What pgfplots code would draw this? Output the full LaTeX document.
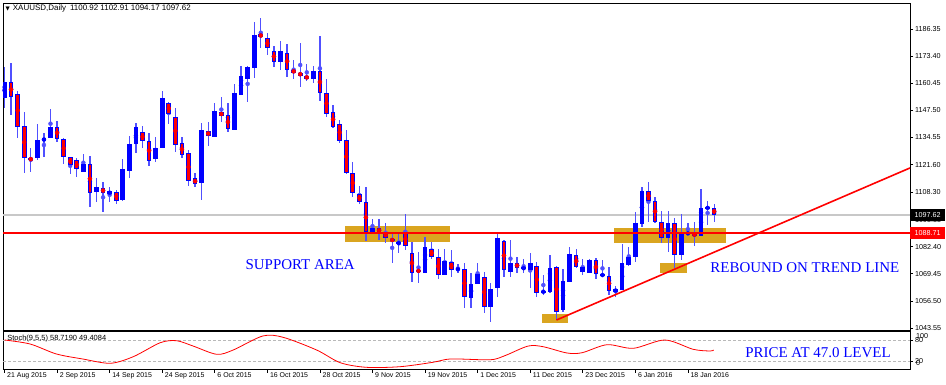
\documentclass[border=0pt]{standalone}
\usepackage{fontspec}
\setmainfont{Liberation Sans}
\newfontfamily\serifann{Liberation Serif}
\newfontfamily\dejavu{DejaVu Sans}
\usepackage{pgfplots}
\usepackage{pgfplotstable}
\pgfplotsset{compat=1.18}
\definecolor{gold}{HTML}{DAA520}
\definecolor{wick}{RGB}{80,80,255}
\definecolor{hred}{RGB}{255,0,0}
\definecolor{bidgray}{RGB}{200,200,200}
\definecolor{lvlgray}{RGB}{185,185,185}
\newcommand{\annfont}{\serifann\fontsize{15}{17}\selectfont}

\pgfplotstableread{
i o h l c
0 1153.26 1168.35 1148.77 1160.90
5 1124.60 1140.98 1123.79 1133.34
6 1132.87 1136.54 1125.37 1134.30
7 1134.15 1148.15 1134.15 1139.41
12 1118.20 1126.80 1118.20 1121.74
14 1108.65 1115.34 1103.88 1110.90
16 1107.41 1110.76 1103.59 1108.99
18 1104.69 1124.27 1104.21 1119.35
19 1118.68 1135.40 1115.34 1131.29
20 1131.29 1141.60 1127.28 1139.41
23 1124.27 1134.63 1122.69 1129.38
24 1129.67 1156.74 1129.67 1153.54
30 1112.67 1141.60 1104.69 1138.12
32 1134.63 1151.16 1134.63 1147.19
35 1138.12 1160.09 1138.12 1155.93
36 1154.83 1168.83 1154.83 1163.91
37 1162.47 1168.68 1151.63 1168.35
38 1167.87 1189.84 1163.09 1183.49
42 1170.74 1180.62 1166.77 1175.84
47 1162.62 1168.68 1160.71 1166.44
56 1089.26 1095.62 1088.79 1091.18
60 1083.92 1089.26 1079.62 1084.16
64 1069.97 1087.16 1069.69 1082.39
67 1068.87 1081.15 1068.87 1075.70
69 1071.50 1074.37 1069.69 1071.74
71 1057.75 1069.69 1052.97 1064.58
72 1064.58 1074.75 1064.58 1069.35
74 1053.74 1065.20 1046.28 1062.19
75 1062.52 1089.07 1058.22 1086.40
77 1070.45 1085.59 1067.78 1074.75
79 1071.98 1076.37 1069.69 1072.22
80 1071.26 1079.52 1062.52 1074.46
82 1060.42 1068.87 1059.32 1061.38
83 1060.61 1078.42 1060.42 1072.07
85 1052.16 1071.60 1051.35 1066.15
86 1065.67 1082.10 1065.67 1078.76
88 1070.45 1076.37 1068.87 1072.55
89 1069.69 1076.37 1069.69 1076.04
91 1068.73 1076.04 1068.06 1068.97
93 1060.76 1063.86 1058.37 1062.19
94 1061.71 1083.68 1061.71 1074.75
95 1073.65 1082.39 1073.17 1077.61
96 1077.33 1099.10 1075.23 1093.56
97 1093.23 1110.76 1091.65 1108.99
101 1086.69 1099.58 1080.00 1093.56
103 1078.42 1098.00 1076.04 1088.79
104 1088.69 1093.56 1087.98 1088.83
106 1087.50 1109.94 1087.50 1100.73
107 1100.87 1104.21 1092.75 1101.01
}\bull

\pgfplotstableread{
i o h l c
1 1160.90 1170.11 1145.28 1154.02
2 1155.17 1156.74 1134.44 1139.70
3 1140.03 1146.57 1117.44 1124.60
4 1124.60 1129.67 1118.20 1123.79
8 1139.70 1142.42 1132.24 1133.82
9 1133.68 1134.15 1121.74 1125.08
10 1125.08 1125.08 1116.96 1121.40
11 1123.65 1124.89 1115.82 1119.35
13 1121.74 1125.70 1101.49 1107.89
15 1110.56 1113.14 1098.82 1107.89
17 1108.65 1109.47 1102.64 1104.21
21 1137.02 1140.03 1129.38 1132.87
22 1133.01 1136.54 1121.07 1123.46
25 1151.16 1151.63 1140.84 1145.76
26 1144.47 1148.48 1127.76 1130.96
27 1131.77 1134.63 1124.60 1126.18
28 1126.99 1128.57 1111.52 1113.91
29 1115.05 1117.44 1110.76 1112.33
31 1137.64 1142.08 1130.48 1135.25
33 1146.57 1154.02 1141.80 1144.95
34 1145.28 1151.16 1137.02 1138.60
39 1183.82 1191.75 1177.42 1182.67
40 1181.91 1184.58 1173.93 1177.13
41 1175.84 1178.23 1168.06 1170.74
43 1175.03 1179.04 1163.57 1166.77
44 1166.77 1171.55 1162.33 1165.48
45 1165.48 1179.52 1158.80 1164.05
46 1163.91 1169.64 1161.66 1162.62
48 1166.44 1183.01 1152.11 1155.64
49 1155.93 1162.33 1144.18 1145.76
50 1146.71 1150.06 1138.93 1139.70
51 1140.98 1142.89 1132.05 1133.01
52 1133.34 1138.12 1117.11 1117.44
53 1117.73 1122.98 1105.98 1107.89
54 1107.56 1111.52 1102.64 1103.88
55 1103.59 1110.76 1085.25 1089.26
57 1091.18 1095.47 1085.59 1089.26
58 1089.41 1093.85 1084.30 1086.40
59 1086.07 1089.26 1074.46 1085.11
61 1089.55 1098.15 1080.95 1082.58
62 1079.52 1084.78 1065.67 1069.69
63 1071.26 1080.00 1064.91 1070.45
65 1081.15 1084.78 1076.37 1077.61
66 1077.33 1081.15 1066.82 1068.87
68 1075.23 1080.81 1068.06 1071.26
70 1071.60 1074.46 1052.97 1058.22
73 1068.06 1070.45 1050.58 1053.45
76 1085.11 1085.59 1068.06 1071.26
78 1074.75 1077.61 1069.69 1072.07
81 1073.17 1075.23 1058.51 1060.13
84 1072.84 1073.17 1047.38 1051.35
87 1078.42 1081.15 1072.07 1072.55
90 1076.04 1076.85 1066.82 1069.35
92 1068.40 1072.69 1059.56 1061.47
98 1108.99 1113.43 1094.33 1104.36
99 1104.21 1106.27 1093.56 1094.33
100 1094.33 1099.58 1084.01 1086.69
102 1093.56 1096.24 1072.07 1078.42
105 1088.79 1094.33 1082.72 1087.50
108 1100.92 1102.91 1094.17 1097.62
}\bear

\pgfplotstableread{
i v
0 80
3.9 68.7
7.9 40.6
11.9 26.5
16.1 14.4
19.6 33
23.7 72.4
26.2 78
28.7 63
32.3 39.7
34.8 51.8
39.3 91.3
42.4 87.6
47.5 51.8
51.1 16
55.1 3
60.2 4.8
65.2 17.2
67.8 26.5
72.4 24.5
74.5 25.5
76.4 37.7
79.7 63
82 61
85.6 43.4
87.9 44.2
91.7 66.8
95.7 56.6
100.5 80
104.8 53.8
107.4 49
107.9 51.8
}\stoch

\pgfplotsset{
  candle/.style={only marks, mark=none, forget plot,
    error bars/.cd, y dir=both, y explicit, error mark=none},
}

\begin{document}
\begin{tikzpicture}
\useasboundingbox (0,0) rectangle (946bp,-385bp);
\begin{axis}[
  at={(3bp,-3bp)}, anchor=north west,
  width=907bp, height=327bp, scale only axis,
  xmin=-0.23, xmax=137.8, ymin=1042.61, ymax=1198.77,
  xtick=\empty,
  ytick={1043.55,1056.50,1069.45,1082.40,1095.35,1108.30,1121.60,1134.55,1147.50,1160.45,1173.40,1186.35},
  yticklabels={1043.55,1056.50,1069.45,1082.40,1095.35,1108.30,1121.60,1134.55,1147.50,1160.45,1173.40,1186.35},
  ytick pos=right, yticklabel pos=right,
  tick align=outside, major tick length=3bp,
  tick style={black, line width=0.6bp},
  yticklabel style={font=\fontsize{7.2}{8}\selectfont, inner sep=0pt, xshift=2bp},
  axis line style={black, line width=0.8bp},
  clip mode=individual,
]
% zones
\addplot[fill=gold, draw=none] coordinates {(51.8,1084.4) (67.8,1084.4) (67.8,1092.27) (51.8,1092.27)};
\addplot[fill=gold, draw=none] coordinates {(92.8,1084.0) (109.8,1084.0) (109.8,1091.46) (92.8,1091.46)};
\addplot[fill=gold, draw=none] coordinates {(99.8,1069.97) (103.8,1069.97) (103.8,1074.75) (99.8,1074.75)};
\addplot[fill=gold, draw=none] coordinates {(81.8,1045.8) (85.8,1045.8) (85.8,1050.1) (81.8,1050.1)};
% bid line
\addplot[draw=bidgray, line width=1.5bp] coordinates {(-0.23,1097.62) (137.8,1097.62)};
% wicks
\addplot[wick, candle, error bar style={line width=1.2bp}]
  table[x=i, y expr={(\thisrow{h}+\thisrow{l})/2}, y error expr={(\thisrow{h}-\thisrow{l})/2}] {\bull};
\addplot[wick, candle, error bar style={line width=1.2bp}]
  table[x=i, y expr={(\thisrow{h}+\thisrow{l})/2}, y error expr={(\thisrow{h}-\thisrow{l})/2}] {\bear};
% bodies
\addplot[blue, candle, error bar style={line width=4.6bp}]
  table[x=i, y expr={(\thisrow{o}+\thisrow{c})/2}, y error expr={max((\thisrow{c}-\thisrow{o})/2,0.4)}] {\bull};
\addplot[blue, candle, error bar style={line width=4.6bp}]
  table[x=i, y expr={(\thisrow{o}+\thisrow{c})/2}, y error expr={max((\thisrow{o}-\thisrow{c})/2,0.6)}] {\bear};
\addplot[red, candle, error bar style={line width=2.6bp}]
  table[x=i, y expr={(\thisrow{o}+\thisrow{c})/2}, y error expr={max((\thisrow{o}-\thisrow{c})/2-0.4,0.22)}] {\bear};
% lines
\addplot[draw=hred, line width=2bp] coordinates {(-0.23,1088.71) (137.8,1088.71)};
\addplot[draw=hred, line width=1.6bp] coordinates {(84,1047.38) (137.8,1120.0)};
% texts
\node[font=\annfont, text=blue] at (axis cs:45,1073.65) {SUPPORT AREA};
\node[font=\annfont, text=blue] at (axis cs:121.8,1072.2) {REBOUND ON TREND LINE};
\node[anchor=west, inner sep=0pt, font=\fontsize{8}{9}\selectfont] at (axis cs:0.15,1196.3)
  {{\dejavu\fontsize{5.5}{6}\selectfont ▼}\hspace{3bp}XAUUSD,Daily\hspace{4bp}1100.92 1102.91 1094.17 1097.62};
\node[anchor=west, fill=black, text=white, inner sep=0pt, minimum width=35bp, minimum height=12bp,
  font=\fontsize{7.2}{8}\selectfont] at (axis cs:137.8,1097.62) {1097.62};
\node[anchor=west, fill=hred, text=white, inner sep=0pt, minimum width=35bp, minimum height=12bp,
  font=\fontsize{7.2}{8}\selectfont] at (axis cs:137.8,1088.71) {1088.71};
\end{axis}

\begin{axis}[
  at={(3bp,-331.7bp)}, anchor=north west,
  width=907bp, height=38bp, scale only axis,
  xmin=-0.23, xmax=137.8, ymin=-3.7, ymax=103.4,
  xtick={0,8,...,104},
  xticklabels={21 Aug 2015,2 Sep 2015,14 Sep 2015,24 Sep 2015,6 Oct 2015,16 Oct 2015,28 Oct 2015,9 Nov 2015,19 Nov 2015,1 Dec 2015,11 Dec 2015,23 Dec 2015,6 Jan 2016,18 Jan 2016},
  xtick pos=bottom,
  xticklabel style={anchor=north west, font=\fontsize{7}{8}\selectfont, inner sep=0pt, xshift=2.5bp},
  ytick={20,80}, yticklabels={20,80},
  ytick pos=right, yticklabel pos=right,
  tick align=outside, major tick length=3bp,
  tick style={black, line width=0.6bp},
  yticklabel style={font=\fontsize{7.2}{8}\selectfont, inner sep=0pt, xshift=2bp},
  axis line style={black, line width=0.8bp},
  clip mode=individual,
]
\addplot[draw=lvlgray, line width=0.6bp, dash pattern=on 2.5bp off 2.5bp] coordinates {(-0.23,80) (137.8,80)};
\addplot[draw=lvlgray, line width=0.6bp, dash pattern=on 2.5bp off 2.5bp] coordinates {(-0.23,20) (137.8,20)};
\addplot[draw=hred, line width=0.8bp, smooth, tension=0.5] table[x=i, y=v] {\stoch};
\node[anchor=west, inner sep=0pt, font=\fontsize{7.5}{8}\selectfont] at (axis cs:0.4,82.8) {Stoch(9,5,5) 58.7190 49.4084};
\node[font=\annfont, text=blue] at (axis cs:123.8,43.4) {PRICE AT 47.0 LEVEL};
\node[anchor=west, inner sep=0pt, font=\fontsize{7.2}{8}\selectfont] at (axis cs:137.8,90) [xshift=6bp] {100};
\node[anchor=west, inner sep=0pt, font=\fontsize{7.2}{8}\selectfont] at (axis cs:137.8,14) [xshift=6bp] {0};
\end{axis}
\end{tikzpicture}
\end{document}
